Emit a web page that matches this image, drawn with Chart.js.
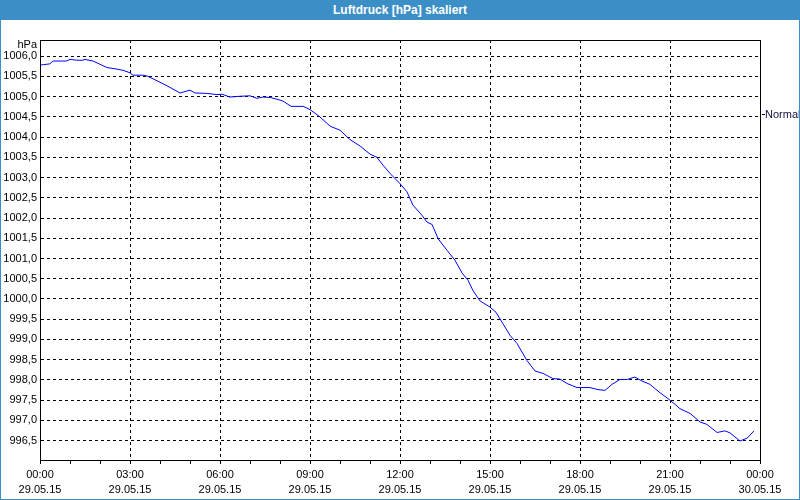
<!DOCTYPE html>
<html>
<head>
<meta charset="utf-8">
<script src="https://cdn.jsdelivr.net/npm/chart.js@4.4.0/dist/chart.umd.min.js"></script>
<style>
  html, body { margin: 0; padding: 0; }
  body { width: 800px; height: 500px; background: #ffffff; position: relative; overflow: hidden; }
  #frame { position: absolute; left: 0; top: 0; width: 800px; height: 500px; box-sizing: border-box;
           border: 1px solid #3c8fc6; border-top: none; }
  #title { position: absolute; left: 0; top: 0; width: 800px; height: 20px; background: #3c8fc6;
           color: #fff; font: bold 12px "Liberation Sans", Arial, sans-serif; text-align: center; line-height: 20px; }
  #wrap { position: absolute; left: 1px; top: 20px; width: 798px; height: 479px; }
</style>
</head>
<body>
<div id="frame"></div>
<div id="title">Luftdruck [hPa] skaliert</div>
<div id="wrap"><canvas id="chart"></canvas></div>
<script>
// Zeit in Stunden ab 29.05.15 00:00
var hours = [0, 0.11, 0.33, 0.43, 0.87, 1.0, 1.23, 1.43, 1.5, 1.77, 2.0, 2.23, 2.57, 2.77, 3.0, 3.1,
  3.43, 3.57, 3.77, 4.07, 4.33, 4.67, 4.9, 5.0, 5.17, 5.57, 5.9, 6.07, 6.33, 6.67, 7.0, 7.23, 7.43,
  7.67, 7.93, 8.1, 8.37, 8.77, 9.0, 9.33, 9.67, 10.0, 10.33, 10.67, 11.0, 11.23, 11.43, 11.67, 11.83,
  12.0, 12.23, 12.43, 12.73, 12.9, 13.07, 13.27, 13.57, 13.83, 14.07, 14.27, 14.43, 14.67, 15.0, 15.2,
  15.43, 15.67, 15.9, 16.23, 16.5, 16.77, 17.1, 17.33, 17.57, 17.9, 18.33, 18.6, 18.83, 19.07, 19.33,
  19.57, 19.83, 20.07, 20.33, 20.67, 21.0, 21.33, 21.67, 22.0, 22.23, 22.57, 22.83, 23.0, 23.33, 23.57, 23.8]

// Luftdruck in hPa
var pressure = [1005.78, 1005.79, 1005.81, 1005.88, 1005.88, 1005.92, 1005.90, 1005.90, 1005.92, 1005.88,
  1005.80, 1005.72, 1005.68, 1005.65, 1005.59, 1005.53, 1005.53, 1005.51, 1005.44, 1005.33, 1005.23,
  1005.09, 1005.14, 1005.16, 1005.09, 1005.08, 1005.05, 1005.06, 1004.99, 1005.01, 1005.02, 1004.96,
  1004.99, 1004.98, 1004.93, 1004.89, 1004.76, 1004.76, 1004.68, 1004.50, 1004.27, 1004.17, 1003.94,
  1003.78, 1003.58, 1003.50, 1003.31, 1003.10, 1002.98, 1002.85, 1002.65, 1002.32, 1002.07, 1001.90,
  1001.84, 1001.49, 1001.20, 1000.96, 1000.64, 1000.46, 1000.21, 999.95, 999.80, 999.67, 999.39,
  999.10, 998.90, 998.48, 998.22, 998.16, 998.03, 998.02, 997.91, 997.81, 997.81, 997.76, 997.74,
  997.89, 998.01, 998.01, 998.07, 997.97, 997.89, 997.68, 997.50, 997.29, 997.17, 996.96, 996.90,
  996.70, 996.74, 996.69, 996.49, 996.56, 996.74]

// Achsenbeschriftungen
var xTickHours = [0, 3, 6, 9, 12, 15, 18, 21, 24]
var xTickTimes = ['00:00', '03:00', '06:00', '09:00', '12:00', '15:00', '18:00', '21:00', '00:00']
var xTickDates = ['29.05.15', '29.05.15', '29.05.15', '29.05.15', '29.05.15', '29.05.15', '29.05.15', '29.05.15', '30.05.15']
var yTicks = [996.5, 997.0, 997.5, 998.0, 998.5, 999.0, 999.5, 1000.0, 1000.5, 1001.0, 1001.5,
  1002.0, 1002.5, 1003.0, 1003.5, 1004.0, 1004.5, 1005.0, 1005.5, 1006.0]
var yUnit = 'hPa'
var seriesName = 'Normal'

var FONT = '"Liberation Sans", Arial, sans-serif'

var points = hours.map(function (h, i) { return { x: h, y: pressure[i] } })

// Rahmen, Einheit und Legende
var extras = {
  id: 'extras',
  afterDraw: function (chart) {
    var ctx = chart.ctx
    var a = chart.chartArea
    ctx.save()
    ctx.strokeStyle = '#000'
    ctx.lineWidth = 1
    ctx.strokeRect(Math.round(a.left) + 0.5, Math.round(a.top) + 0.5,
      Math.round(a.right - a.left), Math.round(a.bottom - a.top))
    ctx.fillStyle = '#000'
    ctx.font = '11px ' + FONT
    ctx.textAlign = 'right'
    ctx.textBaseline = 'middle'
    ctx.fillText(yUnit, a.left - 3, a.top + 5)
    // Legende
    ctx.textAlign = 'left'
    ctx.fillStyle = '#101040'
    ctx.fillText(seriesName, a.right + 5, 95)
    ctx.beginPath()
    ctx.moveTo(a.right + 2, 94.5)
    ctx.lineTo(a.right + 5, 94.5)
    ctx.stroke()
    ctx.restore()
  }
}

var ctx = document.getElementById('chart').getContext('2d')
var chart = new Chart(ctx, {
  type: 'line',
  data: {
    datasets: [{
      label: seriesName,
      data: points,
      borderColor: '#0000ff',
      borderWidth: 1,
      pointRadius: 0,
      tension: 0,
      fill: false
    }]
  },
  options: {
    responsive: true,
    maintainAspectRatio: false,
    animation: false,
    events: [],
    layout: { padding: { left: 0, top: 20, right: 39, bottom: 0 } },
    plugins: { legend: { display: false }, tooltip: { enabled: false } },
    scales: {
      x: {
        type: 'linear',
        min: 0,
        max: 24,
        afterBuildTicks: function (scale) {
          var t = []
          for (var h = 0; h <= 24; h++) t.push({ value: h })
          scale.ticks = t
        },
        afterFit: function (scale) { scale.height = 39 },
        grid: {
          color: function (c) { return c.tick && c.tick.value % 3 === 0 ? '#000' : 'rgba(0,0,0,0)' },
          tickColor: '#000',
          tickLength: 4,
          lineWidth: 1
        },
        border: { display: true, color: '#000', dash: [3, 3] },
        ticks: {
          autoSkip: false,
          maxRotation: 0,
          padding: 3,
          color: '#000',
          font: { family: FONT, size: 11, lineHeight: 15 / 11 },
          callback: function (v) {
            var i = xTickHours.indexOf(v)
            return i < 0 ? '' : [xTickTimes[i], xTickDates[i]]
          }
        }
      },
      y: {
        type: 'linear',
        min: 996.02,
        max: 1006.4,
        afterBuildTicks: function (scale) {
          scale.ticks = yTicks.map(function (v) { return { value: v } })
        },
        afterFit: function (scale) { scale.width = 39 },
        grid: { color: '#000', drawTicks: false, lineWidth: 1 },
        border: { display: true, color: '#000', dash: [3, 3] },
        ticks: {
          padding: 3,
          color: '#000',
          font: { family: FONT, size: 11 },
          callback: function (v) { return v.toFixed(1).replace('.', ',') }
        }
      }
    }
  },
  plugins: [extras]
})
</script>
</body>
</html>
